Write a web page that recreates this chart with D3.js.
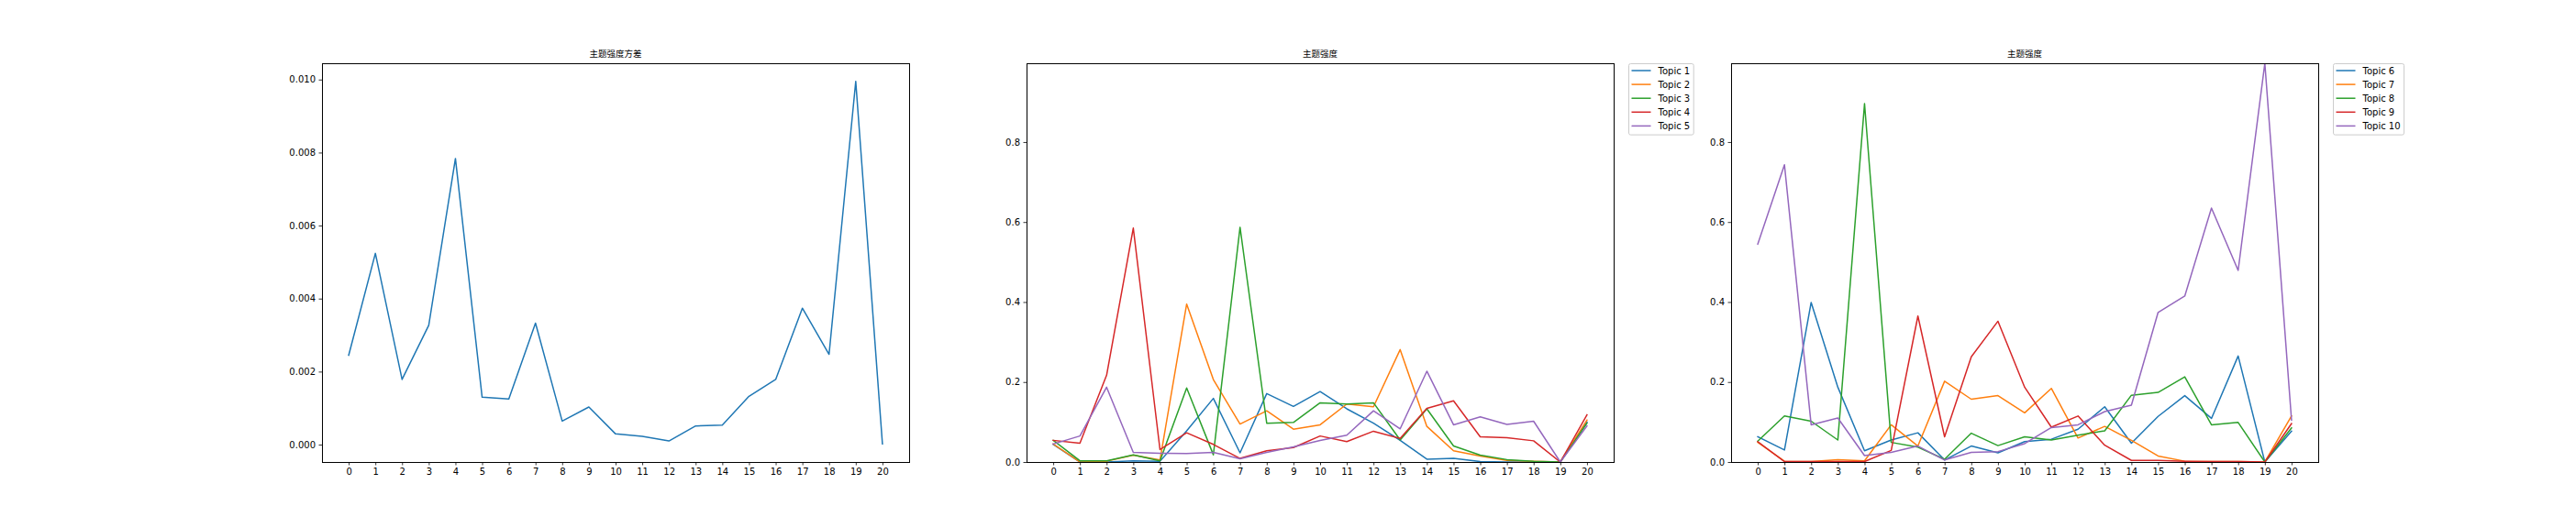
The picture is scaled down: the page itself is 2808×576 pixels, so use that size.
<!DOCTYPE html>
<html><head><meta charset="utf-8">
<script src="https://cdn.jsdelivr.net/npm/d3@7"></script>
<style>html,body{margin:0;padding:0;background:#fff;} svg{display:block;}</style>
</head><body><svg id="c" width="2808" height="576"></svg>
<script>
// ---------- data ----------
const xLabels = [0,1,2,3,4,5,6,7,8,9,10,11,12,13,14,15,16,17,18,19,20];
const varianceTitle = "主题强度方差";
const intensityTitle = "主题强度";
const varianceTicks = [0,0.002,0.004,0.006,0.008,0.010];
const intensityTicks = [0,0.2,0.4,0.6,0.8];

const topicVariance = [0.002448,0.005239,0.001785,0.003269,0.007837,0.001299,0.001249,0.003328,0.000645,0.001031,0.000293,0.000226,0.000100,0.000511,0.000536,0.001324,0.001785,0.003738,0.002473,0.009950,0.000020];

const namesA = ["Topic 1","Topic 2","Topic 3","Topic 4","Topic 5"];
const namesB = ["Topic 6","Topic 7","Topic 8","Topic 9","Topic 10"];

const topic1  = [0.044,0.000,0.000,0.003,0.002,0.078,0.159,0.023,0.171,0.139,0.176,0.133,0.097,0.054,0.007,0.009,0.001,0.000,0.000,0.000,0.100];
const topic2  = [0.045,0.000,0.002,0.017,0.005,0.395,0.206,0.095,0.128,0.082,0.093,0.145,0.138,0.281,0.089,0.028,0.015,0.004,0.002,0.000,0.105];
const topic3  = [0.054,0.003,0.003,0.018,0.003,0.185,0.018,0.587,0.097,0.099,0.148,0.145,0.148,0.055,0.133,0.040,0.017,0.006,0.002,0.000,0.097];
const topic4  = [0.054,0.047,0.217,0.585,0.031,0.073,0.044,0.009,0.028,0.036,0.065,0.051,0.077,0.059,0.134,0.153,0.063,0.061,0.053,0.000,0.118];
const topic5  = [0.045,0.065,0.187,0.024,0.022,0.021,0.024,0.008,0.024,0.038,0.054,0.067,0.128,0.083,0.227,0.093,0.113,0.094,0.102,0.000,0.090];
const topic6  = [0.063,0.030,0.399,0.187,0.028,0.055,0.073,0.005,0.040,0.023,0.051,0.057,0.082,0.138,0.047,0.114,0.166,0.109,0.265,0.000,0.077];
const topic7  = [0.049,0.002,0.001,0.006,0.003,0.093,0.040,0.202,0.157,0.166,0.123,0.184,0.060,0.089,0.054,0.015,0.002,0.001,0.001,0.000,0.115];
const topic8  = [0.052,0.115,0.102,0.055,0.896,0.049,0.037,0.007,0.072,0.041,0.063,0.055,0.067,0.078,0.167,0.174,0.213,0.093,0.099,0.000,0.085];
const topic9  = [0.051,0.001,0.001,0.001,0.001,0.029,0.365,0.063,0.263,0.352,0.187,0.087,0.115,0.042,0.004,0.004,0.002,0.001,0.001,0.000,0.096];
const topic10 = [0.545,0.743,0.093,0.110,0.016,0.024,0.040,0.005,0.024,0.026,0.046,0.086,0.093,0.126,0.142,0.374,0.415,0.635,0.479,0.997,0.105];

const palette = ["#1f77b4","#ff7f0e","#2ca02c","#d62728","#9467bd"];

// ---------- drawing ----------
const svg = d3.select("#c");
svg.append("rect").attr("width",2808).attr("height",576).attr("fill","#fff");
const FONT = "'DejaVu Sans', sans-serif";
const panels = [{x0:351,x1:991},{x0:1119,x1:1759},{x0:1887,x1:2527}];
const TOP = 69, BOTTOM = 504;

function drawPanel(idx, title, series, names, yDomain, yTicks, yFmt) {
  const p = panels[idx];
  const g = svg.append("g");
  const x = d3.scaleLinear().domain([-1,21]).range([p.x0,p.x1]);
  const y = d3.scaleLinear().domain(yDomain).range([BOTTOM,TOP]);

  const clipId = "clip"+idx;
  svg.append("clipPath").attr("id",clipId).append("rect")
    .attr("x",p.x0).attr("y",TOP).attr("width",p.x1-p.x0).attr("height",BOTTOM-TOP);

  const line = d3.line().x((d,i)=>x(xLabels[i])).y(d=>y(d));
  const lg = g.append("g").attr("clip-path",`url(#${clipId})`);
  series.forEach((s,i)=>{
    lg.append("path").datum(s).attr("d",line).attr("fill","none")
      .attr("stroke",palette[i]).attr("stroke-width",1.5)
      .attr("stroke-linejoin","round").attr("stroke-linecap","square");
  });

  // x axis
  const xa = g.append("g").attr("transform",`translate(0,${BOTTOM})`)
    .call(d3.axisBottom(x).tickValues(xLabels).tickFormat(d3.format("d")).tickSize(3.5).tickPadding(3.5));
  xa.select(".domain").remove();
  xa.selectAll("line").attr("stroke","#000").attr("stroke-width",0.8);
  xa.selectAll("text").attr("font-family",FONT).attr("font-size",10).attr("fill","#000");
  xa.attr("font-family",FONT).attr("font-size",10);

  // y axis
  const ya = g.append("g").attr("transform",`translate(${p.x0},0)`)
    .call(d3.axisLeft(y).tickValues(yTicks).tickFormat(d3.format(yFmt)).tickSize(3.5).tickPadding(3.5));
  ya.select(".domain").remove();
  ya.selectAll("line").attr("stroke","#000").attr("stroke-width",0.8);
  ya.selectAll("text").attr("font-family",FONT).attr("font-size",10).attr("fill","#000");
  ya.attr("font-family",FONT).attr("font-size",10);

  // frame
  g.append("rect").attr("x",p.x0+0.5).attr("y",TOP+0.5)
    .attr("width",p.x1-p.x0).attr("height",BOTTOM-TOP)
    .attr("fill","none").attr("stroke","#000").attr("stroke-width",1);

  // title
  g.append("text").attr("x",(p.x0+p.x1)/2).attr("y",62).attr("text-anchor","middle")
    .attr("font-family","'Noto Sans CJK SC', sans-serif").attr("font-size",9.5).attr("fill","#000")
    .text(title);

  // legend
  if (names) {
    const lgd = g.append("g");
    const bx = p.x1 + 16.5, by = 69.5;
    const box = lgd.append("rect");
    let maxW = 0;
    names.forEach((n,i)=>{
      const ry = by + 7.5 + i*15.1;
      lgd.append("line").attr("x1",bx+3).attr("x2",bx+24).attr("y1",ry).attr("y2",ry)
        .attr("stroke",palette[i]).attr("stroke-width",1.5);
      const t = lgd.append("text").attr("x",bx+32).attr("y",ry+3.6)
        .attr("font-family",FONT).attr("font-size",10).attr("fill","#000").text(n);
      maxW = Math.max(maxW, t.node().getComputedTextLength());
    });
    box.attr("x",bx).attr("y",by).attr("width",32+maxW+4).attr("height",77.6)
      .attr("rx",2).attr("fill","#fff").attr("fill-opacity",0.8)
      .attr("stroke","#cccccc").attr("stroke-width",1);
  }
}

const vExt = d3.extent(topicVariance);
const vPad = (vExt[1]-vExt[0])*0.05;
drawPanel(0, varianceTitle, [topicVariance], null, [vExt[0]-vPad, vExt[1]+vPad], varianceTicks, ".3f");

const seriesA = [topic1,topic2,topic3,topic4,topic5];
const seriesB = [topic6,topic7,topic8,topic9,topic10];
const yMax = d3.max(seriesA.concat(seriesB), s=>d3.max(s));
drawPanel(1, intensityTitle, seriesA, namesA, [0,yMax], intensityTicks, ".1f");
drawPanel(2, intensityTitle, seriesB, namesB, [0,yMax], intensityTicks, ".1f");
</script>
</body></html>
